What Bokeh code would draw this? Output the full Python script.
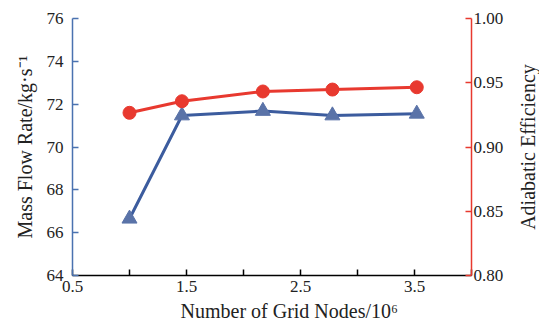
from bokeh.plotting import figure
from bokeh.layouts import row
from bokeh.models import Range1d, LinearAxis, FixedTicker, NumeralTickFormatter, Title
from bokeh.embed import file_html
from bokeh.resources import INLINE

nodes = [1.0, 1.46, 2.17, 2.78, 3.52]
mass_flow = [66.65, 71.47, 71.68, 71.47, 71.55]
efficiency = [0.9266, 0.9356, 0.9432, 0.9447, 0.9465]
x_ticks = [0.5, 1.5, 2.5, 3.5]
x_minor = [1.0, 2.0, 3.0, 4.0]
left_ticks = [64, 66, 68, 70, 72, 74, 76]
right_ticks = [0.80, 0.85, 0.90, 0.95, 1.00]

FONT = "Liberation Serif"
BLUE_AXIS = "#4a72b0"
BLUE_LINE = "#3c5c9e"
BLUE_MARK = "#5a73a8"
RED = "#e8392f"
TXT = "#222222"

p = figure(width=514, height=325, output_backend="svg", toolbar_location=None,
           x_range=Range1d(0.5, 4.0), y_range=Range1d(64, 76),
           min_border_left=72, min_border_right=43, min_border_top=18, min_border_bottom=50)
p.extra_y_ranges = {"eff": Range1d(0.80, 1.00)}
p.outline_line_color = None
p.xgrid.grid_line_color = None
p.ygrid.grid_line_color = None
p.background_fill_color = "white"
p.border_fill_color = "white"

# bottom axis
xa = p.xaxis[0]
xa.ticker = FixedTicker(ticks=x_ticks, minor_ticks=x_minor)
xa.axis_line_color = "black"
xa.axis_line_width = 1.5
xa.major_tick_line_color = "black"
xa.minor_tick_line_color = "black"
xa.major_tick_line_width = 1.5
xa.minor_tick_line_width = 1.5
xa.major_tick_in = 6
xa.major_tick_out = 0
xa.minor_tick_in = 6
xa.minor_tick_out = 0
xa.major_label_text_font = FONT
xa.major_label_text_font_size = "17px"
xa.major_label_text_color = TXT
xa.major_label_standoff = 5

# left axis
ya = p.yaxis[0]
ya.ticker = FixedTicker(ticks=left_ticks)
ya.axis_line_color = BLUE_AXIS
ya.axis_line_width = 1.5
ya.major_tick_line_color = BLUE_AXIS
ya.major_tick_line_width = 1.5
ya.major_tick_in = 6
ya.major_tick_out = 0
ya.minor_tick_line_color = None
ya.major_label_text_font = FONT
ya.major_label_text_font_size = "17px"
ya.major_label_text_color = TXT
ya.major_label_standoff = 9
ya.axis_label = "Mass Flow Rate/kg·s⁻¹"
ya.axis_label_text_font = FONT
ya.axis_label_text_font_size = "20px"
ya.axis_label_text_font_style = "normal"
ya.axis_label_text_color = TXT
ya.axis_label_standoff = 8

# right axis (ticks and labels only)
ra = LinearAxis(y_range_name="eff", ticker=FixedTicker(ticks=right_ticks),
                formatter=NumeralTickFormatter(format="0.00"))
ra.axis_line_color = RED
ra.axis_line_width = 1.5
ra.major_tick_line_color = RED
ra.major_tick_line_width = 1.5
ra.major_tick_in = 6
ra.major_tick_out = 0
ra.minor_tick_line_color = None
ra.major_label_text_font = FONT
ra.major_label_text_font_size = "17px"
ra.major_label_text_color = TXT
ra.major_label_standoff = 2
p.add_layout(ra, "right")

# x title (a little right of centre, as in the reference)
p.add_layout(Title(text="Number of Grid Nodes/10⁶", align="left", offset=108,
                   text_font=FONT, text_font_size="20px", text_font_style="normal",
                   text_color=TXT, standoff=6), "below")

# series
p.line(nodes, mass_flow, line_color=BLUE_LINE, line_width=3)
p.scatter(nodes, mass_flow, marker="triangle", size=15, fill_color=BLUE_MARK,
          line_color=BLUE_MARK)
p.line(nodes, efficiency, y_range_name="eff", line_color=RED, line_width=3)
p.scatter(nodes, efficiency, y_range_name="eff", marker="circle", size=13,
          fill_color=RED, line_color=RED)

# narrow strip to the right carrying the right-axis title, reading upward
p2 = figure(width=25, height=325, output_backend="svg", toolbar_location=None,
            x_axis_location=None, y_axis_location=None,
            min_border_left=24, min_border_right=0, min_border_top=18, min_border_bottom=50)
p2.outline_line_color = None
p2.background_fill_color = "white"
p2.border_fill_color = "white"
p2.xgrid.grid_line_color = None
p2.ygrid.grid_line_color = None
p2.add_layout(Title(text="Adiabatic Efficiency", align="center",
                    text_font=FONT, text_font_size="20px", text_font_style="normal",
                    text_color=TXT, standoff=0), "left")

layout = row(p, p2)
open("out.html", "w").write(file_html(layout, INLINE))
